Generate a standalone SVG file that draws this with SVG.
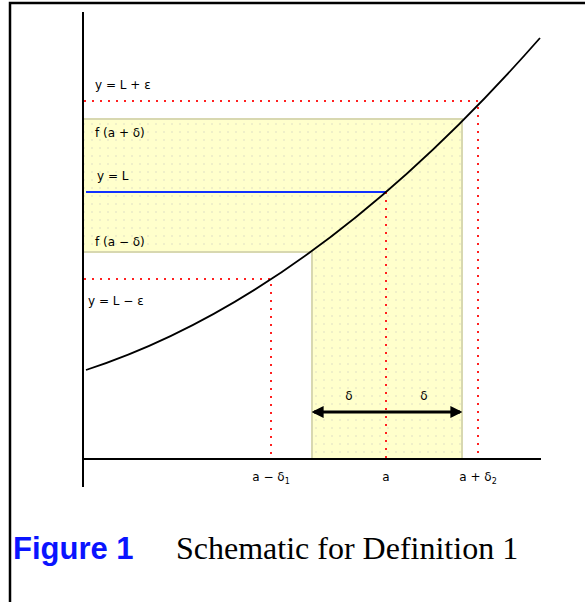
<svg xmlns="http://www.w3.org/2000/svg" width="585" height="602" viewBox="0 0 585 602">
<style>
.lbl{font-family:"DejaVu Sans","Liberation Sans",sans-serif;font-size:12px;fill:#000}
.red{stroke:#ff2020;stroke-width:2;stroke-dasharray:2 6;fill:none}
.edge{stroke:#d8d8b0;stroke-width:2;fill:none}
</style>
<defs>
<pattern id="dots" width="8" height="8" patternUnits="userSpaceOnUse">
<rect width="8" height="8" fill="#ffffcc"/>
<circle cx="4" cy="4" r="0.8" fill="#dcdcc4"/>
</pattern>
<marker id="ah" viewBox="0 0 10 10" refX="8" refY="5" markerWidth="4" markerHeight="4" orient="auto-start-reverse">
<path d="M0,0 L10,5 L0,10 z" fill="#000"/>
</marker>
</defs>
<rect width="585" height="602" fill="#fff"/>
<g id="frame">
<path d="M10,602 V3 H585" stroke="#000" stroke-width="2.5" fill="none"/>
</g>
<g id="region">
<path d="M84,119 H462 V459 H312 V252 H84 Z" fill="url(#dots)"/>
<path d="M84,119 H462 V459" class="edge"/>
<path d="M84,252 H312 V459" class="edge"/>
</g>
<g id="guides">
<path d="M84,101 H478 V459" class="red"/>
<path d="M84,279 H271 V459" class="red"/>
<path d="M386,192 V459" class="red"/>
<line x1="86" y1="192" x2="386" y2="192" stroke="#1030ff" stroke-width="2"/>
</g>
<g id="axes">
<line x1="83" y1="12" x2="83" y2="487" stroke="#000" stroke-width="2"/>
<line x1="83" y1="459" x2="541" y2="459" stroke="#000" stroke-width="2"/>
</g>
<g id="curve">
<path d="M86,370 Q313,296.3 540,38" stroke="#000" stroke-width="1.8" fill="none"/>
</g>
<g id="connectors">
<line x1="314" y1="412" x2="460" y2="412" stroke="#000" stroke-width="3" marker-start="url(#ah)" marker-end="url(#ah)"/>
</g>
<g id="labels">
<text class="lbl" x="95" y="89">y = L + ε</text>
<text class="lbl" x="95" y="137">f (a + δ)</text>
<text class="lbl" x="97" y="180">y = L</text>
<text class="lbl" x="95" y="246">f (a − δ)</text>
<text class="lbl" x="88" y="305">y = L − ε</text>
<text class="lbl" x="349" y="400" text-anchor="middle">δ</text>
<text class="lbl" x="424" y="400" text-anchor="middle">δ</text>
<text class="lbl" x="271" y="481" text-anchor="middle">a − δ<tspan font-size="8" dy="3">1</tspan></text>
<text class="lbl" x="386" y="481" text-anchor="middle">a</text>
<text class="lbl" x="478" y="481" text-anchor="middle">a + δ<tspan font-size="8" dy="3">2</tspan></text>
</g>
<g id="caption">
<text x="13" y="559" font-family="Liberation Sans, Arial, sans-serif" font-weight="bold" font-size="31" fill="#0a14ff">Figure 1</text>
<text x="176" y="559" font-family="Liberation Serif, Times New Roman, serif" font-size="32" fill="#000">Schematic for Definition 1</text>
</g>
</svg>
